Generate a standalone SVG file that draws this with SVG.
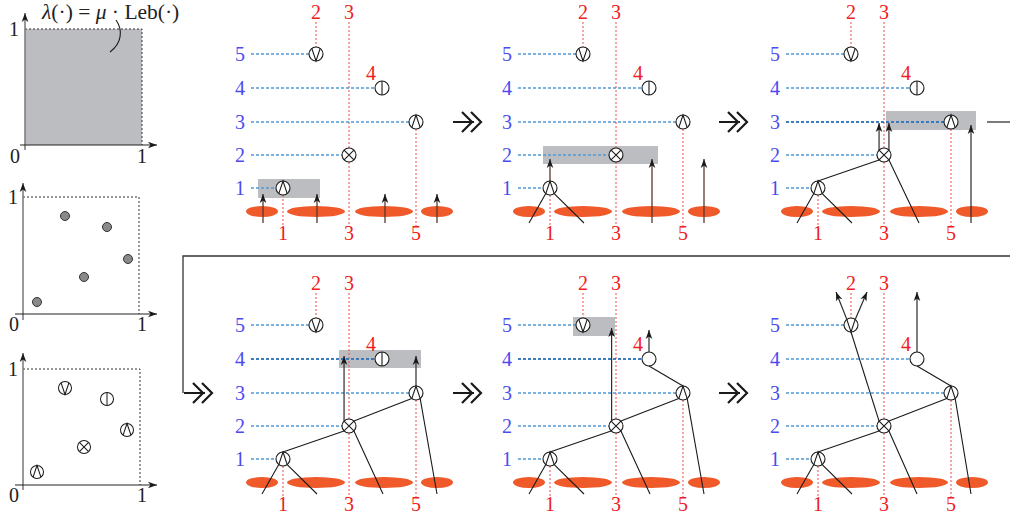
<svg xmlns="http://www.w3.org/2000/svg" xmlns:xlink="http://www.w3.org/1999/xlink" width="1010" height="517" viewBox="0 0 1010 517">
  <style>
    text { font-family: "Liberation Serif", "DejaVu Serif", serif; font-size: 20px; text-anchor: middle; }
    .lv { fill: #4b4bf0; }
    .col { fill: #f02020; }
    .axlbl { fill: #222; }
    .rdash { fill: none; stroke: #f04848; stroke-width: 1; stroke-dasharray: 2 2; }
    .bdash { fill: none; stroke: #4f9ad8; stroke-width: 1.3; stroke-dasharray: 3 2; }
    .bdark { fill: none; stroke: #2a6cb4; stroke-width: 1.3; stroke-dasharray: 3 2; }
    .blob { fill: #f05a2a; }
    .hl { fill: #bcbdc1; }
    .edge { fill: none; stroke: #1a1a1a; stroke-width: 1.1; }
    .up { fill: none; stroke: #2a2a2a; stroke-width: 1.2; marker-end: url(#tip); }
    .upb { fill: none; stroke: #5a382c; stroke-width: 1.3; marker-end: url(#tip); }
    .ring { fill: #fff; stroke: #1a1a1a; stroke-width: 1.1; }
    .glyph { fill: none; stroke: #1a1a1a; stroke-width: 1.1; }
    .chev { fill: none; stroke: #1a1a1a; stroke-width: 2.2; stroke-linejoin: miter; }
    .wire { fill: none; stroke: #333; stroke-width: 1.3; }
    .frame-dash { fill: none; stroke: #333; stroke-width: 1; stroke-dasharray: 2 2; }
    .yax { fill: none; stroke: #777; stroke-width: 1.5; marker-end: url(#tip); }
    .xax { fill: none; stroke: #222; stroke-width: 1.2; marker-end: url(#tip); }
    .dot { fill: #8a8a8a; stroke: #333; stroke-width: 1; }
  </style>
  <defs>
    <marker id="tip" viewBox="-10 -5 10 10" refX="0" refY="0" markerWidth="10" markerHeight="10" markerUnits="userSpaceOnUse" orient="auto">
      <path d="M0,0 L-9,-3.3 L-6.5,0 L-9,3.3 Z" fill="#1a1a1a"/>
    </marker>
    <!-- node glyphs, centred on the origin, radius 7 -->
    <g id="g-up"><circle class="ring" r="7"/><path class="glyph" d="M-4.2,5.6 L0,-7 L4.2,5.6"/></g>
    <g id="g-cross"><circle class="ring" r="7"/><path class="glyph" d="M-4.95,-4.95 L4.95,4.95 M-4.95,4.95 L4.95,-4.95"/></g>
    <g id="g-bar"><circle class="ring" r="7"/><path class="glyph" d="M0,-7 V7"/></g>
    <g id="g-plain"><circle class="ring" r="7"/></g>
    <g id="g-down"><circle class="ring" r="7"/><path class="glyph" d="M-4.2,-5.6 L0,7 L4.2,-5.6"/></g>
    <!-- double-chevron step arrow -->
    <g id="step">
      <path class="chev" d="M0,0 H21 M9,-10 L19,0 L9,10 M18,-10 L28,0 L18,10"/>
    </g>
    <!-- shared panel frame: column guides, level guides, blobs, labels -->
    <g id="frame">
      <path class="rdash" d="M316,22V47 M349,22V227 M416,129V227 M283,195V227"/>
      <path class="bdash" d="M251,54H309 M251,88H375 M251,122H409 M251,155H342 M251,188H276"/>
      <ellipse class="blob" cx="262" cy="211.5" rx="16" ry="5.5"/>
      <ellipse class="blob" cx="316" cy="211.5" rx="29" ry="5.5"/>
      <ellipse class="blob" cx="384" cy="211.5" rx="29" ry="5.5"/>
      <ellipse class="blob" cx="437" cy="211.5" rx="16" ry="5.5"/>
      <text class="lv" x="240" y="61">5</text>
      <text class="lv" x="240" y="95">4</text>
      <text class="lv" x="240" y="129">3</text>
      <text class="lv" x="240" y="162">2</text>
      <text class="lv" x="240" y="195">1</text>
      <text class="col" x="316" y="19">2</text>
      <text class="col" x="349" y="19">3</text>
      <text class="col" x="371" y="80">4</text>
      <text class="col" x="283" y="240">1</text>
      <text class="col" x="349" y="240">3</text>
      <text class="col" x="416" y="240">5</text>
    </g>
  </defs>

  <!-- left column: intensity, sampled points, marked points -->
  <g id="fig-intensity">
    <rect class="hl" x="25" y="29" width="117" height="116"/>
    <path class="frame-dash" d="M25,29H142V145"/>
    <line class="yax" x1="25" y1="150" x2="25" y2="13"/>
    <line class="xax" x1="20" y1="145" x2="157" y2="145"/>
    <text class="axlbl" x="14" y="36">1</text>
    <text class="axlbl" x="15" y="163">0</text>
    <text class="axlbl" x="142" y="163">1</text>
    <text class="axlbl" x="42" y="19" style="text-anchor:start;font-size:21.5px"><tspan font-style="italic">λ</tspan>(·) = <tspan font-style="italic">μ</tspan> · Leb(·)</text>
    <path class="edge" d="M116,20 C123,30 122,43 110,52"/>
  </g>
  <g id="fig-points">
    <path class="frame-dash" d="M23,197H139V314"/>
    <line class="yax" x1="23" y1="320" x2="23" y2="183"/>
    <line class="xax" x1="15" y1="314" x2="157" y2="314"/>
    <text class="axlbl" x="13" y="204">1</text>
    <text class="axlbl" x="14" y="331">0</text>
    <text class="axlbl" x="142" y="331">1</text>
    <circle class="dot" cx="65" cy="216" r="4.5"/>
    <circle class="dot" cx="107" cy="227" r="4.5"/>
    <circle class="dot" cx="128" cy="259" r="4.5"/>
    <circle class="dot" cx="84" cy="277" r="4.5"/>
    <circle class="dot" cx="37" cy="302" r="4.5"/>
  </g>
  <g id="fig-marks">
    <path class="frame-dash" d="M23,369H140V485"/>
    <line class="yax" x1="23" y1="490" x2="23" y2="353"/>
    <line class="xax" x1="15" y1="485" x2="157" y2="485"/>
    <text class="axlbl" x="13" y="376">1</text>
    <text class="axlbl" x="14" y="502">0</text>
    <text class="axlbl" x="142" y="502">1</text>
    <use xlink:href="#g-down" transform="translate(65,388) scale(0.93)"/>
    <use xlink:href="#g-bar" transform="translate(107,399) scale(0.93)"/>
    <use xlink:href="#g-up" transform="translate(127,430) scale(0.93)"/>
    <use xlink:href="#g-cross" transform="translate(84,447) scale(0.93)"/>
    <use xlink:href="#g-up" transform="translate(37,472) scale(0.93)"/>
  </g>

  <!-- step 1 -->
  <g id="panel-1">
    <rect class="hl" x="258" y="179" width="62" height="19"/>
    <use xlink:href="#frame"/>
    <path class="upb" d="M263,223V194"/>
    <path class="upb" d="M317,223V194"/>
    <path class="upb" d="M385,223V194"/>
    <path class="upb" d="M437,223V194"/>
    <g id="p1-n1"><use xlink:href="#g-up" x="283" y="188"/></g>
    <g id="p1-n2"><use xlink:href="#g-cross" x="349" y="155"/></g>
    <g id="p1-n3"><use xlink:href="#g-up" x="416" y="122"/></g>
    <g id="p1-n4"><use xlink:href="#g-bar" x="382" y="88"/></g>
    <g id="p1-n5"><use xlink:href="#g-down" x="316" y="54"/></g>
  </g>

  <!-- step 2 -->
  <g id="panel-2" transform="translate(267,0)">
    <rect class="hl" x="276" y="146" width="115" height="18"/>
    <use xlink:href="#frame"/>
    <g id="p2-n1"><use xlink:href="#g-up" x="283" y="188"/></g>
    <g id="p2-n2"><use xlink:href="#g-cross" x="349" y="155"/></g>
    <g id="p2-n3"><use xlink:href="#g-up" x="416" y="122"/></g>
    <g id="p2-n4"><use xlink:href="#g-bar" x="382" y="88"/></g>
    <g id="p2-n5"><use xlink:href="#g-down" x="316" y="54"/></g>
    <g id="p2-edges">
      <path class="edge" d="M278.8,193.6 L262,223 M287.2,193.6 L317,223"/>
      <path class="upb" d="M283,181V159"/>
      <path class="upb" d="M385,223V159"/>
      <path class="upb" d="M437,223V159"/>
    </g>
  </g>

  <!-- step 3 -->
  <g id="panel-3" transform="translate(535,0)">
    <rect class="hl" x="351" y="111" width="90" height="19"/>
    <use xlink:href="#frame"/>
    <path class="bdark" d="M251,122H409"/>
    <g id="p3-n1"><use xlink:href="#g-up" x="283" y="188"/></g>
    <g id="p3-n2"><use xlink:href="#g-cross" x="349" y="155"/></g>
    <g id="p3-n3"><use xlink:href="#g-up" x="416" y="122"/></g>
    <g id="p3-n4"><use xlink:href="#g-bar" x="382" y="88"/></g>
    <g id="p3-n5"><use xlink:href="#g-down" x="316" y="54"/></g>
    <g id="p3-edges">
      <path class="edge" d="M278.8,193.6 L262,223 M287.2,193.6 L317,223"/>
      <path class="edge" d="M283,181 L344.05,159.95 M353.95,159.95 L384,223"/>
      <path class="up" d="M344.05,150.05V123"/>
      <path class="up" d="M353.95,150.05V123"/>
      <path class="up" d="M436,223V125"/>
    </g>
  </g>

  <!-- step 4 -->
  <g id="panel-4" transform="translate(0,271)">
    <rect class="hl" x="339" y="79" width="82" height="18"/>
    <use xlink:href="#frame"/>
    <path class="bdark" d="M251,88H375"/>
    <g id="p4-n1"><use xlink:href="#g-up" x="283" y="188"/></g>
    <g id="p4-n2"><use xlink:href="#g-cross" x="349" y="155"/></g>
    <g id="p4-n3"><use xlink:href="#g-up" x="416" y="122"/></g>
    <g id="p4-n4"><use xlink:href="#g-bar" x="382" y="88"/></g>
    <g id="p4-n5"><use xlink:href="#g-down" x="316" y="54"/></g>
    <g id="p4-edges">
      <path class="edge" d="M278.8,193.6 L262,223 M287.2,193.6 L317,223"/>
      <path class="edge" d="M283,181 L344.05,159.95 M353.95,159.95 L383,223"/>
      <path class="edge" d="M353.95,150.05 L411.8,127.6 M420.2,127.6 L437,223"/>
      <path class="up" d="M344.05,150.05V85"/>
      <path class="up" d="M416,115V85"/>
    </g>
  </g>

  <!-- step 5 -->
  <g id="panel-5" transform="translate(267,271)">
    <rect class="hl" x="306" y="46" width="42" height="19"/>
    <use xlink:href="#frame"/>
    <path class="bdark" d="M251,88H375"/>
    <g id="p5-n1"><use xlink:href="#g-up" x="283" y="188"/></g>
    <g id="p5-n2"><use xlink:href="#g-cross" x="349" y="155"/></g>
    <g id="p5-n3"><use xlink:href="#g-up" x="416" y="122"/></g>
    <g id="p5-n4"><use xlink:href="#g-plain" x="382" y="88"/></g>
    <g id="p5-n5"><use xlink:href="#g-down" x="316" y="54"/></g>
    <g id="p5-edges">
      <path class="edge" d="M278.8,193.6 L262,223 M287.2,193.6 L317,223"/>
      <path class="edge" d="M283,181 L344.05,159.95 M353.95,159.95 L383,223"/>
      <path class="edge" d="M353.95,150.05 L411.8,127.6 M420.2,127.6 L437,223"/>
      <path class="edge" d="M382,95 L416,115"/>
      <path class="up" d="M344.6,150.05V57"/>
      <path class="up" d="M382,81V59"/>
    </g>
  </g>

  <!-- step 6 -->
  <g id="panel-6" transform="translate(535,271)">
    <use xlink:href="#frame"/>
    <g id="p6-n1"><use xlink:href="#g-up" x="283" y="188"/></g>
    <g id="p6-n2"><use xlink:href="#g-cross" x="349" y="155"/></g>
    <g id="p6-n3"><use xlink:href="#g-up" x="416" y="122"/></g>
    <g id="p6-n4"><use xlink:href="#g-plain" x="382" y="88"/></g>
    <g id="p6-n5"><use xlink:href="#g-down" x="316" y="54"/></g>
    <g id="p6-edges">
      <path class="edge" d="M278.8,193.6 L262,223 M287.2,193.6 L317,223"/>
      <path class="edge" d="M283,181 L344.05,159.95 M353.95,159.95 L382,223"/>
      <path class="edge" d="M353.95,150.05 L411.8,127.6 M420.2,127.6 L436,223"/>
      <path class="edge" d="M382,95 L416,115"/>
      <path class="edge" d="M316,61 L344.05,150.05"/>
      <path class="up" d="M382,81V21"/>
      <path class="up" d="M311.8,48.4 L301,21"/>
      <path class="up" d="M320.2,48.4 L332,21"/>
    </g>
  </g>

  <!-- step arrows between panels -->
  <g id="connectors">
    <use xlink:href="#step" x="453" y="122"/>
    <use xlink:href="#step" x="719" y="122"/>
    <use xlink:href="#step" x="453" y="393"/>
    <use xlink:href="#step" x="719" y="393"/>
    <path class="wire" d="M987,122H1010"/>
    <path class="wire" d="M1010,256H183V393"/>
    <use xlink:href="#step" x="184" y="393"/>
  </g>
</svg>
